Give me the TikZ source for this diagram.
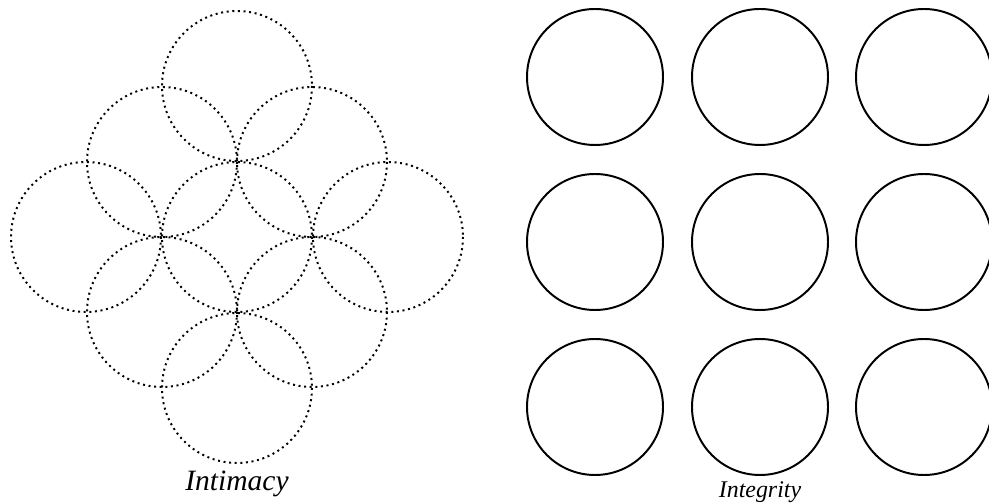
\documentclass[tikz,border=0pt]{standalone}
\usepackage{fontspec}
\setmainfont{Liberation Serif}

\begin{document}
\begin{tikzpicture}[x=0.025cm,y=-0.025cm]
			\tikzset{ring/.style={line width=1.4pt},
				dotring/.style={line width=1.4pt, dash pattern=on 1.4pt off 2.6pt},
				caption/.style={anchor=base, font=\itshape}}

			% Frame of the whole page
			\useasboundingbox (0,0) rectangle (989,504);

			% Left: nine dotted circles, a 3x3 grid turned by 45 degrees
			\draw[dotring] (237,86) circle (75);
			\draw[dotring] (162,162) circle (75);
			\draw[dotring] (312,162) circle (75);
			\draw[dotring] (86,237) circle (75);
			\draw[dotring] (237,237) circle (75);
			\draw[dotring] (388,237) circle (75);
			\draw[dotring] (162,312) circle (75);
			\draw[dotring] (312,312) circle (75);
			\draw[dotring] (237,388) circle (75);

			% Right: nine solid circles, apart from each other
			\begin{scope}
				\clip (0,0) rectangle (989,504);
				\draw[ring] (595,77) circle (68);
				\draw[ring] (760,77) circle (68);
				\draw[ring] (924,77) circle (68);
				\draw[ring] (595,242) circle (68);
				\draw[ring] (760,242) circle (68);
				\draw[ring] (924,242) circle (68);
				\draw[ring] (595,407) circle (68);
				\draw[ring] (760,407) circle (68);
				\draw[ring] (924,407) circle (68);
			\end{scope}

			% Captions
			\node[caption, font=\itshape\fontsize{21}{25}\selectfont] (intimacy) at (237,491) {Intimacy};
			\node[caption, font=\itshape\fontsize{17}{20}\selectfont] (integrity) at (760,498) {Integrity};
		\end{tikzpicture}
\end{document}
